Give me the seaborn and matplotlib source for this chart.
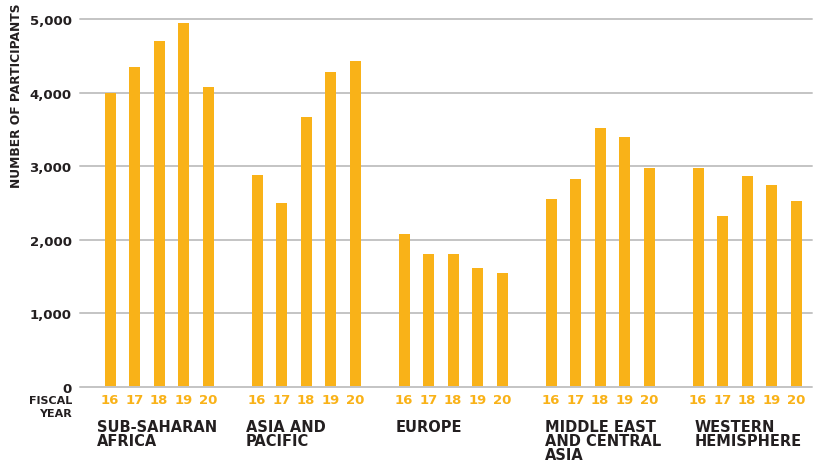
import matplotlib
matplotlib.use("Agg")
import matplotlib.pyplot as plt
import seaborn as sns
import pandas as pd

# Participants by region and fiscal year
regions = ["SUB-SAHARAN\nAFRICA", "ASIA AND\nPACIFIC", "EUROPE",
           "MIDDLE EAST\nAND CENTRAL\nASIA", "WESTERN\nHEMISPHERE"]
years = ["16", "17", "18", "19", "20"]
sub_saharan_africa = [4000, 4350, 4700, 4950, 4070]
asia_pacific = [2880, 2500, 3670, 4280, 4430]
europe = [2080, 1810, 1810, 1620, 1550]
middle_east_central_asia = [2560, 2830, 3520, 3400, 2970]
western_hemisphere = [2970, 2330, 2870, 2740, 2530]
y_ticks = [0, 1000, 2000, 3000, 4000, 5000]

series = [sub_saharan_africa, asia_pacific, europe,
          middle_east_central_asia, western_hemisphere]

ORANGE = "#F9B218"
DARK = "#231F20"
GRID = "#C4C4C4"

# Each region occupies 6 slots: 5 bars followed by one empty slot
rows = []
for g, (region, values) in enumerate(zip(regions, series)):
    for i, (yr, v) in enumerate(zip(years, values)):
        rows.append({"region": region, "year": yr, "pos": g * 6 + i,
                     "participants": v})
df = pd.DataFrame(rows)

sns.set_theme(style="white")
plt.rcParams["font.family"] = ["DejaVu Sans"]

fig = plt.figure(figsize=(8.16, 4.64), dpi=100)
ax = fig.add_axes([80 / 816, 1 - 388 / 464, 732 / 816, 368 / 464])

sns.barplot(data=df, x="pos", y="participants", native_scale=True,
            color=ORANGE, saturation=1, width=0.45, errorbar=None, ax=ax,
            linewidth=0, zorder=3)

ax.set_ylim(0, 5000)
ax.set_xlim(-1.23, 28.65)
ax.set_yticks(y_ticks)
ax.set_yticklabels([f"{t:,}" for t in y_ticks], fontsize=9.5,
                   fontweight="bold", color=DARK)
ax.tick_params(axis="y", length=0, pad=6)
ax.set_xticks([])
ax.set_xlabel("")
ax.set_ylabel("")
for s in ax.spines.values():
    s.set_visible(False)
for t in y_ticks:
    ax.axhline(t, color=GRID, lw=1.4, zorder=1 if t else 4, clip_on=False)

# Fiscal-year labels under each bar
trans = ax.get_xaxis_transform()
for _, r in df.iterrows():
    ax.text(r["pos"], -0.034, r["year"], transform=trans, ha="center",
            va="center", fontsize=9.5, fontweight="bold", color=ORANGE)

# Region names under each group
for g, region in enumerate(regions):
    ax.text(6.1 * g - 0.55, -0.086, region, transform=trans, ha="left",
            va="top", fontsize=10.5, fontweight="bold", color=DARK,
            linespacing=0.95)

fig.text(72 / 816, 1 - 401 / 464, "FISCAL", ha="right", va="center",
         fontsize=8, fontweight="bold", color=DARK)
fig.text(72 / 816, 1 - 414 / 464, "YEAR", ha="right", va="center",
         fontsize=8, fontweight="bold", color=DARK)
fig.text(10 / 816, 1 - 4 / 464, "NUMBER OF PARTICIPANTS", rotation=90,
         ha="left", va="top", fontsize=8.8, fontweight="bold", color=DARK)

fig.savefig("out.png", dpi=100)
